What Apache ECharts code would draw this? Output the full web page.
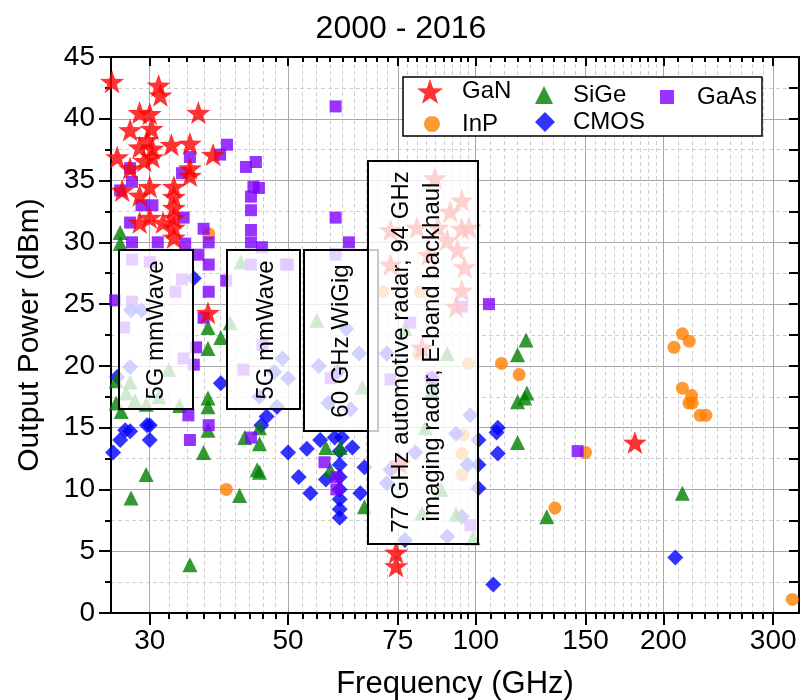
<!DOCTYPE html>
<html><head><meta charset="utf-8">
<script src="https://cdn.jsdelivr.net/npm/echarts@6/dist/echarts.min.js"></script>
<style>html,body{margin:0;padding:0;background:#fff}#c{width:802px;height:700px}</style>
</head><body><div id="c"></div>
<script>
const titleText = '2000 - 2016';
const xName = 'Frequency (GHz)';
const yName = 'Output Power (dBm)';
const xMin = 26, xMax = 330;
const yMin = 0, yMax = 45, yStep = 5;
const xMajorTicks = [30, 50, 75, 100, 150, 200, 300];

const ganData = [[26.1,43],[30,45.5],[31,42.7],[31.2,41.9],[35.9,40.5],[28.9,40.5],[30,40.4],[27.9,39.1],[30.2,39.2],[29.7,38.3],[26.6,36.9],[28.9,37.7],[30.3,37.6],[32.5,37.9],[34.8,38],[37.9,37.1],[27.9,36],[29.4,36.6],[30.3,36.9],[34.8,36],[34.8,35.4],[27.1,34.2],[28.9,33.8],[30,34.5],[32.8,34.5],[32.8,33.7],[32.8,32.8],[28.9,31.6],[30,32],[31.5,31.6],[32.8,32],[32.8,31.2],[32.8,30.4],[37.2,24.3],[74.5,4.9],[74.5,3.8],[180,13.8],[86,35.2],[95,33.4],[73,31],[80.5,31.2],[87,31.2],[95,31.1],[97.5,31.2],[90,30.2],[73,28.2],[93.5,29.4],[95,26.1],[93,24.8],[82,21.5],[75.5,12.1],[91,32.5],[84,29],[96,28]];
const inpData = [[37.3,30.7],[39.8,10],[110,20.2],[117.4,19.3],[134,8.5],[150,13],[214.5,22.6],[220,22],[208,21.5],[214.5,18.2],[222,17.6],[222.5,17],[219.7,17],[229,16],[234,16],[322,1.1],[97.4,20.2],[95.5,14.4],[95,12.9],[95,11.2],[71,26],[81.5,26],[81,21]];
const sigeData = [[26.9,30.8],[26.9,29.9],[37.2,23.1],[37.2,21.4],[37.2,17.4],[37.2,16.7],[39,22.3],[27.9,18.7],[32.2,19.7],[27.5,17.8],[26.5,18.8],[26.5,17],[27,16.3],[28.4,17.2],[29.6,16.9],[31,17.5],[33.5,16.8],[29.6,11.2],[28,9.3],[34.8,3.9],[36.6,13],[37.2,14.8],[41.8,9.5],[42.6,14.2],[44.6,11.6],[55.6,23.7],[45,15],[45,13.7],[45,11.4],[57.5,13.4],[60.6,13.4],[58.4,11.6],[66.3,8.6],[65.8,18.3],[42,28.4],[40.4,23.5],[120.4,22.1],[116.7,20.9],[120.8,17.8],[116.7,17.1],[119.8,17.4],[116.7,13.8],[130,7.8],[214.5,9.7],[83,15],[82,8.1],[99,6.1],[77,23],[85,18],[90,21],[88,10],[93,8]];
const cmosData = [[26.9,14],[27.9,14.7],[30,15.2],[30,14],[26.2,13],[27.4,14.8],[26.6,19.1],[28,24.5],[29.1,24.5],[27.9,19.9],[35.3,27.1],[39,18.6],[29.7,15.2],[46.2,15.9],[45.3,15.2],[50,13],[53.6,13.3],[56.3,14],[59.4,14.2],[61,14.2],[63.4,13.4],[52,11],[54.3,9.7],[57.5,10.8],[60.5,13.1],[60.5,12],[60.5,11],[60.5,10],[60.5,9.2],[60.5,8.4],[60.5,7.7],[65.3,9.7],[66.3,11.8],[62,23],[65,21],[60,19.5],[58,17],[63,16.5],[56,20],[49,20.6],[50,19],[47.5,19.5],[45,17.5],[48,16.7],[108.5,15],[108,14.6],[108.5,12.9],[101,14],[101,12],[101,10.1],[106.7,2.3],[209,4.5],[72,21],[73,11.6],[72,10.5],[80,13],[95,7.8],[90,6.2],[77,5.9],[98,16],[97,12],[85,19],[93,14.5]];
const gaasData = [[39.9,37.9],[38.9,37.1],[34.8,36.9],[27.9,36],[28.1,34.9],[33.8,35.6],[29.1,33],[30.3,33],[26.9,34.2],[34,32],[36.6,31.1],[27.9,31.6],[42.8,36.1],[44.4,36.5],[44,34.5],[44.9,34.4],[43.6,33.7],[43.6,32.6],[43.6,31],[43.6,30],[45.4,29.6],[59.6,41],[59.6,32],[62.6,30],[28.1,30],[30.9,30],[34.2,29.9],[35.9,29],[37.3,30],[37.3,28.2],[39.8,26.9],[37.3,26],[36.6,23.9],[35.6,21.5],[35.3,20.1],[26.4,25.3],[27.3,23.1],[34.6,16],[37.3,15.2],[28.1,28.6],[30,28.4],[33,26],[33.8,27],[28.1,25.2],[34,20.6],[34.8,14],[43.6,14.2],[57.2,12.2],[59.8,11],[59.8,10],[58.5,19],[49.6,28.2],[45.5,21.7],[42.4,19.7],[50,28.2],[43.6,28.2],[59.6,29],[105,25],[78.5,23.5],[95,24.8],[73,18.9],[85,19],[98,7.1],[145.7,13.1]];

const FONT = 'Liberation Sans';
const STAR = 'path://M0,-10L2.35,-3.24L9.51,-3.09L3.8,1.24L5.88,8.09L0,4L-5.88,8.09L-3.8,1.24L-9.51,-3.09L-2.35,-3.24Z';
const C = {GaN:'#ff0000', InP:'#ff8000', SiGe:'#008000', CMOS:'#0000ff', GaAs:'#8000ff'};

const minorTicks = [];
for (let i = 0; i < xMajorTicks.length - 1; i++) {
  const a = xMajorTicks[i], b = xMajorTicks[i+1], s = (b - a) / 9;
  for (let k = 1; k < 9; k++) minorTicks.push(a + k * s);
}
const L = v => Math.log10(v);
const lmin = L(xMin), lmax = L(xMax);
const majorL = xMajorTicks.map(L), minorL = minorTicks.map(L);

function guideAxis(pos, values, tickLen, inside, split, labels, extra) {
  return Object.assign({
    type: 'value', position: pos, min: lmin, max: lmax,
    axisLine: {show: true, onZero: false, lineStyle: {color: '#000', width: 2}},
    axisTick: {show: true, inside: inside, length: tickLen, customValues: values, lineStyle: {color: '#000', width: 2}},
    axisLabel: labels ? {show: true, customValues: values, formatter: v => String(Math.round(Math.pow(10, v))), fontSize: 28, color: '#000', fontFamily: FONT, margin: 14} : {show: false},
    splitLine: split ? {show: true, lineStyle: split} : {show: false}
  }, extra || {});
}

const chart = echarts.init(document.getElementById('c'), null, {renderer: 'canvas'});
const axisFont = {fontSize: 28, color: '#000', fontFamily: FONT};

function legendItem(name, icon, left, top, size, pad) {
  return {data: [{name: name, icon: icon}], left: left, top: top, orient: 'horizontal', padding: 0,
    itemWidth: size, itemHeight: size, selectedMode: false, z: 6,
    textStyle: {fontSize: 24, color: '#000', fontFamily: FONT, padding: [0, 0, 0, pad]}};
}

function box(x, y, w, h, text, cx, cy) {
  return [
    {type: 'rect', z: 20, shape: {x: x, y: y, width: w, height: h}, style: {fill: 'rgba(255,255,255,0.78)', stroke: '#000', lineWidth: 2}},
    {type: 'text', z: 21, x: cx, y: cy, rotation: Math.PI / 2, style: {text: text, fill: '#000', font: '24px ' + FONT, textAlign: 'center', textVerticalAlign: 'middle', lineHeight: 31}}
  ];
}

chart.setOption({
  backgroundColor: '#fff',
  animation: false,
  title: {text: titleText, left: 'center', top: 8, textStyle: {fontSize: 32, fontWeight: 'normal', color: '#000', fontFamily: FONT}},
  grid: {left: 111, right: 3, top: 57, bottom: 87, containLabel: false, outerBoundsMode: 'none'},
  legend: [
    legendItem('GaN', STAR, 417, 79, 26, 14),
    legendItem('SiGe', 'triangle', 535, 83, 18, 15),
    legendItem('GaAs', 'rect', 660, 85, 14, 18),
    legendItem('InP', 'circle', 424, 112, 16, 17),
    legendItem('CMOS', 'diamond', 535, 110, 20, 13)
  ],
  xAxis: [
    {type: 'log', logBase: 10, min: xMin, max: xMax, position: 'bottom', show: false,
     axisLine: {show: false}, axisTick: {show: false}, axisLabel: {show: false}, splitLine: {show: false}},
    guideAxis('bottom', minorL, 6, false, {color: '#cfcfcf', width: 1, type: [4, 3]}, false),
    guideAxis('bottom', majorL, 12, false, {color: '#a8a8a8', width: 1}, true,
      {name: xName, nameLocation: 'middle', nameGap: 56, nameTextStyle: {fontSize: 31, color: '#000', fontFamily: FONT}}),
    guideAxis('top', minorL, 5, true, null, false),
    guideAxis('top', majorL, 9, true, null, false)
  ],
  yAxis: [
    {type: 'value', min: yMin, max: yMax, interval: yStep, position: 'left',
     name: yName, nameLocation: 'middle', nameGap: 66, nameTextStyle: {fontSize: 30, color: '#000', fontFamily: FONT},
     axisLine: {show: true, onZero: false, lineStyle: {color: '#000', width: 2}},
     axisTick: {show: true, length: 12, lineStyle: {color: '#000', width: 2}},
     minorTick: {show: true, splitNumber: 2, length: 6, lineStyle: {color: '#000', width: 2}},
     axisLabel: Object.assign({margin: 16}, axisFont),
     splitLine: {show: true, lineStyle: {color: '#a8a8a8', width: 1}},
     minorSplitLine: {show: true, lineStyle: {color: '#cfcfcf', width: 1, type: [4, 3]}}},
    {type: 'value', min: yMin, max: yMax, interval: yStep / 2, position: 'right',
     axisLine: {show: true, onZero: false, lineStyle: {color: '#000', width: 2}},
     axisTick: {show: true, inside: true, length: 10, lineStyle: {color: '#000', width: 2}},
     axisLabel: {show: false}, splitLine: {show: false}}
  ],
  series: [
    {name: 'InP', type: 'scatter', xAxisIndex: 0, yAxisIndex: 0, data: inpData, symbol: 'circle', symbolSize: 13, itemStyle: {color: C.InP}},
    {name: 'CMOS', type: 'scatter', xAxisIndex: 0, yAxisIndex: 0, data: cmosData, symbol: 'diamond', symbolSize: 16, itemStyle: {color: C.CMOS}},
    {name: 'SiGe', type: 'scatter', xAxisIndex: 0, yAxisIndex: 0, data: sigeData, symbol: 'triangle', symbolSize: 15, itemStyle: {color: C.SiGe}},
    {name: 'GaAs', type: 'scatter', xAxisIndex: 0, yAxisIndex: 0, data: gaasData, symbol: 'rect', symbolSize: 12, itemStyle: {color: C.GaAs}},
    {name: 'GaN', type: 'scatter', xAxisIndex: 0, yAxisIndex: 0, data: ganData, symbol: STAR, symbolSize: [24, 23], itemStyle: {color: C.GaN}}
  ],
  graphic: [
    {type: 'rect', z: 5, shape: {x: 403, y: 77, width: 359, height: 59}, style: {fill: '#fff', stroke: '#000', lineWidth: 1.5}},
    ...box(119, 250, 74, 159, '5G mmWave', 156, 330),
    ...box(227, 250, 73, 159, '5G mmWave', 266, 330),
    ...box(304, 250, 74, 181, '60 GHz WiGig', 341, 341),
    ...box(368, 161, 110, 383, '77 GHz automotive radar, 94 GHz\nimaging radar, E-band backhaul', 417, 352)
  ]
});
</script>
</body></html>
